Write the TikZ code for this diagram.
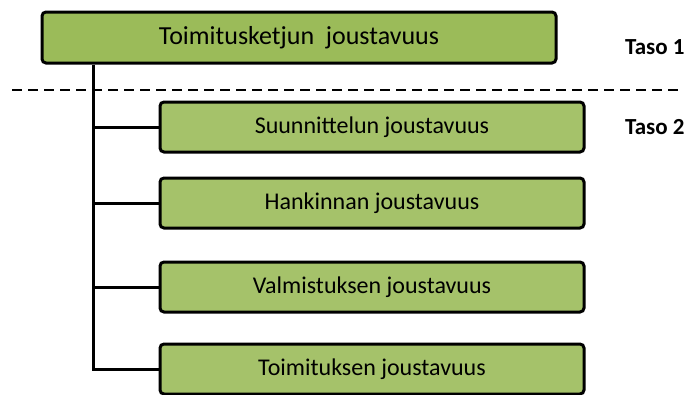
\documentclass[tikz,border=0pt]{standalone}
\usepackage{fontspec}
\setmainfont{Carlito}
\usetikzlibrary{positioning, calc}
\definecolor{LeafGreen}{HTML}{9BBB59}
\definecolor{LeafLight}{HTML}{A5C26A}
\tikzset{
  rootbox/.style={draw=black, line width=3pt, rounded corners=4pt, fill=LeafGreen,
    minimum width=514pt, minimum height=51pt, font=\fontsize{26}{30}\selectfont},
  subbox/.style={draw=black, line width=3pt, rounded corners=4pt, fill=LeafLight,
    minimum width=424pt, minimum height=50pt, font=\fontsize{24}{27}\selectfont},
  link/.style={line width=3pt, draw=black},
  level/.style={font=\bfseries\fontsize{23}{26}\selectfont, anchor=west, inner sep=0pt},
}
\begin{document}
\begin{tikzpicture}[x=1pt, y=-1pt]
    \useasboundingbox (0,0) rectangle (686,394);
    \node[rootbox] (top) at (299,37.5) {Toimitusketjun\ \ joustavuus};
    \node[subbox] (c1) at (372,127) {Suunnittelun joustavuus};
    \node[subbox, below=23pt of c1] (c2) {Hankinnan joustavuus};
    \node[subbox, below=31pt of c2] (c3) {Valmistuksen joustavuus};
    \node[subbox, below=29pt of c3] (c4) {Toimituksen joustavuus};
    \node[level] (t1) at (625,47) {Taso 1};
    \node[level] (t2) at (625,127) {Taso 2};
    % level divider
    \draw[line width=1.8pt, dash pattern=on 10pt off 6pt] (12,90) -- (678,90);
    % spine and branches
    \coordinate (spine) at ($(top.south west)+(53pt,0)$);
    \draw[link] (spine) |- (c4.west);
    \foreach \c in {c1,c2,c3}
      \draw[link] (spine |- \c.west) -- (\c.west);
  \end{tikzpicture}
\end{document}
